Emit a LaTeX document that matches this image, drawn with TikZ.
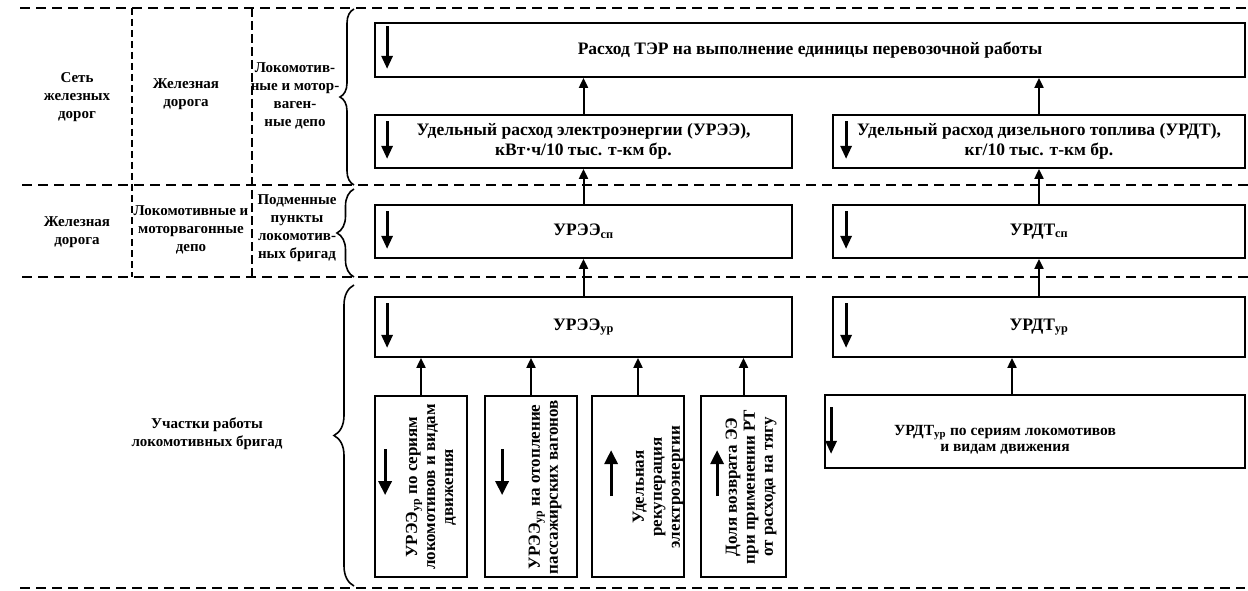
\documentclass[tikz,border=0pt]{standalone}
\usepackage{fontspec}
\setmainfont{Liberation Serif}
\usetikzlibrary{arrows.meta,calc,decorations.pathreplacing}
\begin{document}
\begin{tikzpicture}[x=1pt,y=-1pt,
 box/.style={draw, line width=1.8pt, inner sep=0pt, font=\fontsize{17.5}{19.5}\selectfont\bfseries, align=center},
 conn/.style={line width=2pt, -{Triangle[length=10pt,width=9pt]}},
 inarr/.style={line width=2.8pt, -{Triangle[length=13pt,width=11pt]}},
 varr/.style={line width=3.2pt, -{Triangle[length=14pt,width=13pt]}},
 sep/.style={line width=2pt, dash pattern=on 10pt off 6pt},
 lbl/.style={font=\fontsize{15}{18}\selectfont\bfseries, align=center},
 vtxt/.style={rotate=90, font=\fontsize{17}{18}\selectfont\bfseries, align=center},
 br/.style={line width=1.6pt, decorate, decoration={brace, amplitude=#1}}
]
\useasboundingbox (0,0) rectangle (1248,591);

% separators
\draw[sep] (20,8) -- (1248,8);
\draw[sep] (22,185) -- (1248,185);
\draw[sep] (22,277) -- (1248,277);
\draw[sep] (20,588) -- (1245,588);
\draw[line width=1.2pt, dash pattern=on 7pt off 4pt] (132,8) -- (132,277);
\draw[line width=2.2pt, dash pattern=on 9pt off 4pt] (252,8) -- (252,277);

% braces
\draw[br=14pt] (354,185) -- (354,9);
\draw[br=17pt] (354,277) -- (354,189);
\draw[br=20pt] (354,586) -- (354,285);

% left labels
\node[lbl] (l11) at (77,97) {Сеть\\железных\\дорог};
\node[lbl] (l12) at (186,94) {Железная\\дорога};
\node[lbl] (l13) at (295,96) {Локомотив-\\ные и мотор-\\ваген-\\ные депо};
\node[lbl] (l21) at (77,232) {Железная\\дорога};
\node[lbl] (l22) at (191,230) {Локомотивные и\\моторвагонные\\депо};
\node[lbl] (l23) at (297,228) {Подменные\\пункты\\локомотив-\\ных бригад};
\node[lbl] (l31) at (207,434) {Участки работы\\локомотивных бригад};

% boxes
\node[box, minimum width=870pt, minimum height=54pt] (ter) at (810,50) {Расход ТЭР на выполнение единицы перевозочной работы};
\node[box, minimum width=417pt, minimum height=53pt] (euee) at (583.5,141.5) {Удельный расход электроэнергии (УРЭЭ),\\кВт·ч/10 тыс. т-км бр.};
\node[box, minimum width=412pt, minimum height=53pt] (urdt) at (1039,141.5) {Удельный расход дизельного топлива (УРДТ),\\кг/10 тыс. т-км бр.};
\node[box, minimum width=417pt, minimum height=53pt] (ueesp) at (583.5,231.5) {УРЭЭ\textsubscript{сп}};
\node[box, minimum width=412pt, minimum height=53pt] (urdtsp) at (1039,231.5) {УРДТ\textsubscript{сп}};
\node[box, minimum width=417pt, minimum height=60pt] (ueeur) at (583.5,327) {УРЭЭ\textsubscript{ур}};
\node[box, minimum width=412pt, minimum height=60pt] (urdtur) at (1039,327) {УРДТ\textsubscript{ур}};
\node[box, minimum width=92pt, minimum height=181pt] (v1) at (421,486.5) {};
\node[box, minimum width=92pt, minimum height=181pt] (v2) at (531,486.5) {};
\node[box, minimum width=92pt, minimum height=181pt] (v3) at (638,486.5) {};
\node[box, minimum width=85pt, minimum height=181pt] (v4) at (743.5,486.5) {};
\node[box, minimum width=420pt, minimum height=73pt] (rb) at (1035,431.5) {};

% texts of vertical boxes and lower right box
\node[vtxt] (v1t) at (431,487) {УРЭЭ\textsubscript{ур} по сериям\\локомотивов и видам\\движения};
\node[vtxt] (v2t) at (545,487) {УРЭЭ\textsubscript{ур} на отопление\\пассажирских вагонов};
\node[vtxt] (v3t) at (658,487) {Удельная\\рекуперация\\электроэнергии};
\node[vtxt] (v4t) at (751,487) {Доля возврата ЭЭ\\при применении РТ\\от расхода на тягу};
\node[font=\fontsize{15.5}{16.5}\selectfont\bfseries, align=center] (rbt) at (1005,440) {УРДТ\textsubscript{ур} по сериям локомотивов\\и видам движения};

% inner arrows
\draw[inarr] ($(ter.north west)+(13,4)$) -- ($(ter.south west)+(13,-9)$);
\foreach \b in {euee,ueesp,ueeur}{
  \draw[inarr] ($(\b.north west)+(13,7)$) -- ($(\b.south west)+(13,-10)$);
}
\foreach \b in {urdt,urdtsp,urdtur}{
  \draw[inarr] ($(\b.north west)+(14,7)$) -- ($(\b.south west)+(14,-10)$);
}
\draw[inarr] ($(rb.north west)+(7,13)$) -- ($(rb.south west)+(7,-15)$);
\draw[varr] ($(v1.north west)+(11,54)$) -- ($(v1.north west)+(11,100)$);
\draw[varr] ($(v2.north west)+(18,54)$) -- ($(v2.north west)+(18,100)$);
\draw[varr] ($(v3.north west)+(20,101)$) -- ($(v3.north west)+(20,55)$);
\draw[varr] ($(v4.north west)+(17,101)$) -- ($(v4.north west)+(17,55)$);

% connectors
\draw[conn] (euee.north) -- (euee.north |- ter.south);
\draw[conn] (urdt.north) -- (urdt.north |- ter.south);
\draw[conn] (ueesp.north) -- (ueesp.north |- euee.south);
\draw[conn] (urdtsp.north) -- (urdtsp.north |- urdt.south);
\draw[conn] (ueeur.north) -- (ueeur.north |- ueesp.south);
\draw[conn] (urdtur.north) -- (urdtur.north |- urdtsp.south);
\foreach \v in {v1,v2,v3,v4}{
  \draw[conn] (\v.north) -- (\v.north |- ueeur.south);
}
\coordinate (rbtop) at ($(rb.north)+(-23,0)$);
\draw[conn] (rbtop) -- (rbtop |- urdtur.south);
\end{tikzpicture}
\end{document}
